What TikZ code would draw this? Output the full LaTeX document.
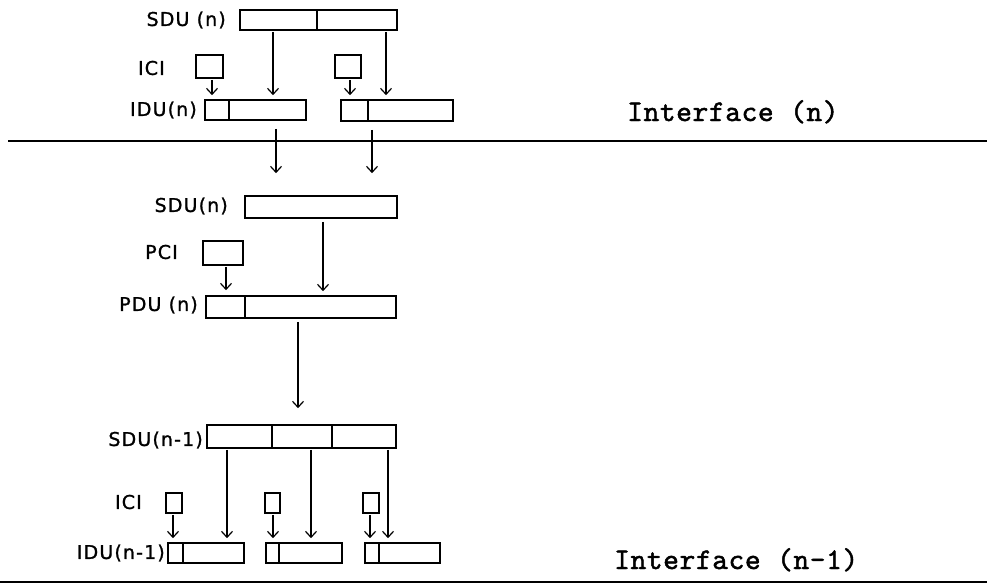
\documentclass[tikz,border=0pt]{standalone}
\usepackage{fontspec}
\newfontfamily\handfont[LetterSpace=6,FakeBold=1.2]{DejaVu Sans}
\newfontfamily\typefont[Extension=.otf,LetterSpace=2,FakeBold=1.5]{lmmono10-regular}
\usetikzlibrary{arrows.meta}
\begin{document}
\begin{tikzpicture}[x=1pt,y=-1pt,
  box/.style={draw, line width=1.6pt, inner sep=0pt, rectangle},
  divider/.style={line width=1.3pt},
  arr/.style={line width=1.1pt, -{Straight Barb[length=6pt,width=11pt,line width=1.2pt]}, shorten >=4pt, shorten <=1pt},
  lbl/.style={anchor=east, inner sep=0pt, font=\handfont\fontsize{19}{19}\selectfont},
  iface/.style={anchor=base west, inner sep=0pt, font=\typefont\fontsize{30}{30}\selectfont},
  rulel/.style={line width=1.8pt}
]
\useasboundingbox (0,0) rectangle (987,584);

% ---------- top part ----------
\node[box, minimum width=157pt, minimum height=20pt] (sduT) at (318.5,20) {};
\draw[divider] (317,10) -- (317,30);
\node[box, minimum width=27pt, minimum height=23pt] (iciA) at (209.5,66.5) {};
\node[box, minimum width=26pt, minimum height=23pt] (iciB) at (348,66.5) {};
\node[box, minimum width=101pt, minimum height=20pt] (iduA) at (255.5,110) {};
\draw[divider] (229,100) -- (229,120);
\node[box, minimum width=112pt, minimum height=21pt] (iduB) at (397,110.5) {};
\draw[divider] (368,100) -- (368,121);

\coordinate (a1) at (273,0);
\coordinate (a2) at (386,0);
\coordinate (a3) at (212,0);
\coordinate (a4) at (350,0);
\draw[arr] (sduT.south -| a1) -- (iduA.north -| a1);
\draw[arr] (sduT.south -| a2) -- (iduB.north -| a2);
\draw[arr] (iciA.south -| a3) -- (iduA.north -| a3);
\draw[arr] (iciB.south -| a4) -- (iduB.north -| a4);

\node[lbl] (lsduT) at (226,20) {SDU (n)};
\node[lbl] (liciT) at (165,68) {ICI};
\node[lbl] (liduT) at (197,110) {IDU(n)};

% interface (n)
\coordinate (ifL) at (8,141);
\coordinate (ifR) at (987,141);
\draw[rulel] (ifL) -- (ifR);
\node[iface] (ifn) at (627,121) {Interface (n)};

% ---------- middle part ----------
\node[box, minimum width=152pt, minimum height=22pt] (sduM) at (321,207) {};
\node[box, minimum width=40pt, minimum height=24pt] (pci) at (223,253) {};
\node[box, minimum width=190pt, minimum height=22pt] (pdu) at (301,307) {};
\draw[divider] (245,296) -- (245,318);

\coordinate (b1) at (276,0);
\coordinate (b2) at (372,0);
\coordinate (b3) at (323,0);
\coordinate (b4) at (226,0);
\coordinate (b5) at (298,0);
\draw[arr, shorten <=8pt, shorten >=22pt] (iduA.south -| b1) -- (sduM.north -| b1);
\draw[arr, shorten <=8pt, shorten >=22pt] (iduB.south -| b2) -- (sduM.north -| b2);
\draw[arr, shorten <=3pt] (sduM.south -| b3) -- (pdu.north -| b3);
\draw[arr, shorten >=5pt] (pci.south -| b4) -- (pdu.north -| b4);

\node[lbl] (lsduM) at (228,206) {SDU(n)};
\node[lbl] (lpci) at (178,252) {PCI};
\node[lbl] (lpdu) at (198,305) {PDU (n)};

% ---------- bottom part ----------
\node[box, minimum width=189pt, minimum height=23pt] (sduB) at (301.5,436.5) {};
\draw[divider] (272,425) -- (272,448);
\draw[divider] (332,425) -- (332,448);
\draw[arr, shorten <=3pt, shorten >=16pt] (pdu.south -| b5) -- (sduB.north -| b5);

\node[box, minimum width=16pt, minimum height=20pt] (iciC) at (174,503) {};
\node[box, minimum width=15pt, minimum height=20pt] (iciD) at (272.5,503) {};
\node[box, minimum width=16pt, minimum height=20pt] (iciE) at (371,503) {};

\node[box, minimum width=76pt, minimum height=20pt] (iduC) at (206,553) {};
\draw[divider] (183,543) -- (183,563);
\node[box, minimum width=76pt, minimum height=20pt] (iduD) at (304,553) {};
\draw[divider] (279,543) -- (279,563);
\node[box, minimum width=75pt, minimum height=20pt] (iduE) at (402.5,553) {};
\draw[divider] (379,543) -- (379,563);

\coordinate (c1) at (227,0);
\coordinate (c2) at (311,0);
\coordinate (c3) at (388,0);
\coordinate (c4) at (173,0);
\coordinate (c5) at (273,0);
\coordinate (c6) at (370,0);
\draw[arr] (sduB.south -| c1) -- (iduC.north -| c1);
\draw[arr] (sduB.south -| c2) -- (iduD.north -| c2);
\draw[arr] (sduB.south -| c3) -- (iduE.north -| c3);
\draw[arr] (iciC.south -| c4) -- (iduC.north -| c4);
\draw[arr] (iciD.south -| c5) -- (iduD.north -| c5);
\draw[arr] (iciE.south -| c6) -- (iduE.north -| c6);

\node[lbl] (lsduB) at (203,440) {SDU(n-1)};
\node[lbl] (liciB) at (142,502) {ICI};
\node[lbl] (liduB) at (165,553) {IDU(n-1)};

% interface (n-1)
\coordinate (ibL) at (0,582);
\coordinate (ibR) at (987,582);
\draw[rulel] (ibL) -- (ibR);
\node[iface] (ifn1) at (614,569) {Interface (n-1)};
\end{tikzpicture}
\end{document}
